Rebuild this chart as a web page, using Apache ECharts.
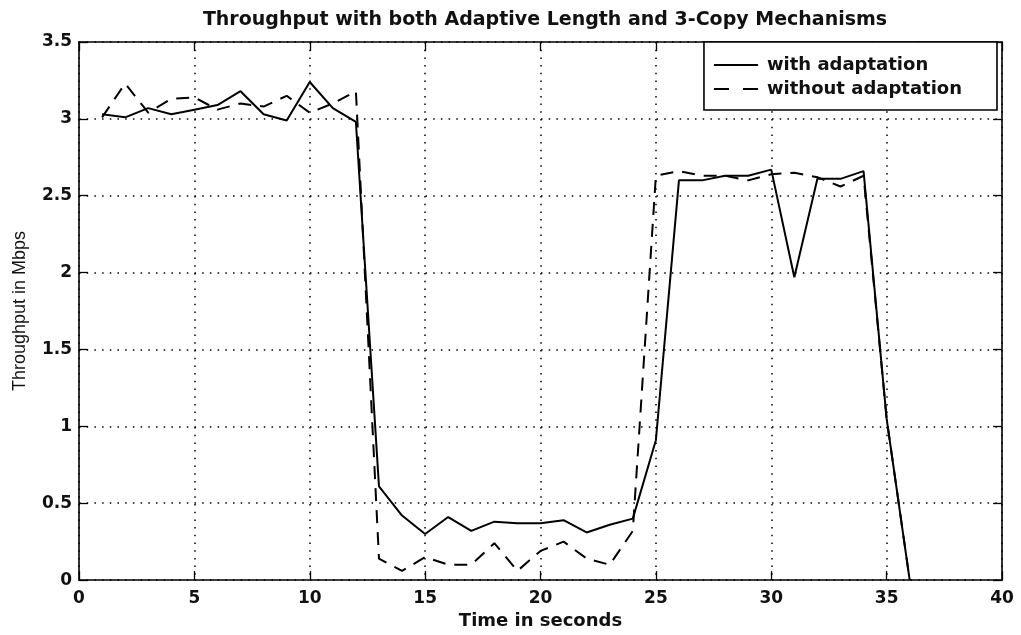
<!DOCTYPE html>
<html>
<head>
    <meta charset="utf-8">
    <title>Throughput</title>
    <script src="https://cdn.jsdelivr.net/npm/echarts@6/dist/echarts.min.js"></script>
    <style>
        html, body { margin: 0; padding: 0; background: #fff; }
        #chart { width: 1021px; height: 635px; }
    </style>
</head>
<body>
    <div id="chart"></div>
    <script>
        // time in seconds
        var times = [1, 2, 3, 4, 5, 6, 7, 8, 9, 10, 11, 12, 13, 14, 15, 16, 17, 18,
                     19, 20, 21, 22, 23, 24, 25, 26, 27, 28, 29, 30, 31, 32, 33, 34, 35, 36];
        // throughput in Mbps
        var withAdapt = [3.03, 3.01, 3.07, 3.03, 3.06, 3.09, 3.18, 3.03, 2.99, 3.24, 3.07, 2.98,
                         0.61, 0.42, 0.30, 0.41, 0.32, 0.38, 0.37, 0.37, 0.39, 0.31, 0.36, 0.40,
                         0.91, 2.60, 2.60, 2.63, 2.63, 2.67, 1.97, 2.61, 2.61, 2.66, 1.05, 0];
        var withoutAdapt = [3.01, 3.23, 3.04, 3.13, 3.14, 3.06, 3.10, 3.08, 3.15, 3.04, 3.10, 3.18,
                            0.14, 0.06, 0.15, 0.10, 0.10, 0.24, 0.06, 0.19, 0.25, 0.14, 0.10, 0.32,
                            2.63, 2.66, 2.63, 2.63, 2.60, 2.64, 2.65, 2.62, 2.56, 2.63, 1.05, 0];
        var xTicks = [0, 5, 10, 15, 20, 25, 30, 35, 40];
        var yTicks = [0, 0.5, 1, 1.5, 2, 2.5, 3, 3.5];

        function pairs(xs, ys) {
            return xs.map(function (x, i) { return [x, ys[i]]; });
        }

        var font = 'DejaVu Sans, sans-serif';
        var gridDots = { type: [1.5, 6.2], color: '#000', width: 1.5 };
        var frame = { color: '#000', width: 1.6 };
        var ticks = { inside: true, length: 9, lineStyle: { color: '#000', width: 1.3 } };

        var chart = echarts.init(document.getElementById('chart'));

        var option = {
            animation: false,
            backgroundColor: '#fff',
            title: {
                text: 'Throughput with both Adaptive Length and 3-Copy Mechanisms',
                left: 540,
                textAlign: 'center',
                top: 6,
                textStyle: { fontFamily: font, fontSize: 19, fontWeight: 'bold', color: '#111' }
            },
            grid: { left: 79, right: 19, top: 42, bottom: 48 },
            legend: {
                right: 24,
                top: 42,
                orient: 'vertical',
                itemWidth: 44,
                itemHeight: 14,
                itemGap: 2,
                padding: [12, 35, 10, 9],
                borderColor: '#000',
                borderWidth: 1.6,
                borderRadius: 0,
                backgroundColor: '#fff',
                itemStyle: { opacity: 0 },
                textStyle: { fontFamily: font, fontSize: 18, fontWeight: 'bold', color: '#111',
                             lineHeight: 22, padding: [0, 0, 0, 4] },
                data: [
                    { name: 'with adaptation' },
                    { name: 'without adaptation', lineStyle: { type: [15, 14] } }
                ]
            },
            xAxis: [{
                type: 'value',
                min: 0, max: 40, interval: 5,
                name: 'Time in seconds',
                nameLocation: 'middle',
                nameGap: 25,
                nameTextStyle: { fontFamily: font, fontSize: 18, fontWeight: 'bold', color: '#111' },
                axisLine: { onZero: false, lineStyle: frame },
                axisTick: ticks,
                axisLabel: { fontFamily: font, fontSize: 17, fontWeight: 'bold', color: '#111', margin: 10,
                             formatter: function (v) { return xTicks.indexOf(v) >= 0 ? String(v) : ''; } },
                splitLine: { show: true, lineStyle: gridDots }
            }, {
                type: 'value', position: 'top',
                min: 0, max: 40, interval: 5,
                axisLine: { onZero: false, lineStyle: frame },
                axisTick: ticks,
                axisLabel: { show: false },
                splitLine: { show: false }
            }],
            yAxis: [{
                type: 'value',
                min: 0, max: 3.5, interval: 0.5,
                name: 'Throughput in Mbps',
                nameLocation: 'middle',
                nameGap: 50,
                nameTextStyle: { fontFamily: 'Liberation Sans, Arial, sans-serif', fontSize: 18, color: '#111' },
                axisLine: { onZero: false, lineStyle: frame },
                axisTick: ticks,
                axisLabel: { fontFamily: font, fontSize: 17, fontWeight: 'bold', color: '#111', margin: 7,
                             formatter: function (v) { return yTicks.indexOf(v) >= 0 ? String(v) : ''; } },
                splitLine: { show: true, lineStyle: gridDots }
            }, {
                type: 'value', position: 'right',
                min: 0, max: 3.5, interval: 0.5,
                axisLine: { onZero: false, lineStyle: frame },
                axisTick: ticks,
                axisLabel: { show: false },
                splitLine: { show: false }
            }],
            series: [{
                name: 'with adaptation',
                type: 'line',
                showSymbol: false,
                symbol: 'none',
                data: pairs(times, withAdapt),
                lineStyle: { color: '#000', width: 2 },
                itemStyle: { color: '#000' }
            }, {
                name: 'without adaptation',
                type: 'line',
                showSymbol: false,
                symbol: 'none',
                data: pairs(times, withoutAdapt),
                lineStyle: { color: '#000', width: 2, type: [13, 9] },
                itemStyle: { color: '#000' }
            }]
        };
        chart.setOption(option);
    </script>
</body>
</html>
